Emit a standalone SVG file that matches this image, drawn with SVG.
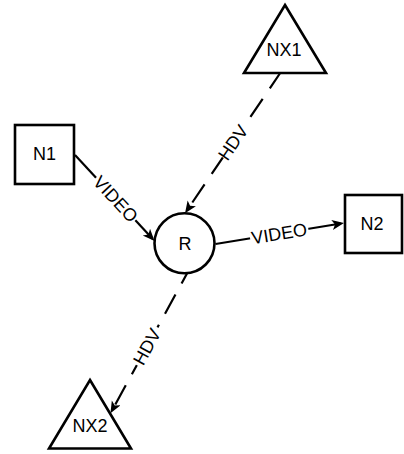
<svg xmlns="http://www.w3.org/2000/svg" width="404" height="454" viewBox="0 0 404 454">
  <style>
    .shape { fill: #ffffff; stroke: #000000; stroke-width: 2.6; }
    .edge { fill: none; stroke: #000000; stroke-width: 2.2; }
    .dashed { stroke-dasharray: 21.8 12.7; }
    .lbl-bg { fill: #ffffff; stroke: none; }
    text { font-family: "Liberation Sans", Arial, sans-serif; font-size: 18px; fill: #000000; text-anchor: middle; }
  </style>
  <defs>
    <marker id="arrow" markerUnits="userSpaceOnUse" markerWidth="13" markerHeight="11" viewBox="0 0 13 11" refX="9" refY="5" orient="auto">
      <path d="M0,0 L12,5 L0,10 L3,5 Z" fill="#000000"/>
    </marker>
  </defs>

  <!-- connectors -->
  <g id="connectors">
    <!-- N1 to R -->
    <g id="e-n1-r">
      <path class="edge" d="M75,155 L152.5,238.8" marker-end="url(#arrow)"/>
      <g transform="translate(115.7,199) rotate(47.25)">
        <rect class="lbl-bg" x="-29" y="-8" width="58" height="16"/>
        <text x="0" y="6.3">VIDEO</text>
      </g>
    </g>
    <!-- R to N2 -->
    <g id="e-r-n2">
      <path class="edge" d="M215.5,244 L341,223.5" marker-end="url(#arrow)"/>
      <g transform="translate(279.2,233.6) rotate(-9.28)">
        <rect class="lbl-bg" x="-29.5" y="-8" width="59" height="16"/>
        <text x="0" y="6.3">VIDEO</text>
      </g>
    </g>
    <!-- NX1 to R -->
    <g id="e-nx1-r">
      <path class="edge dashed" stroke-dashoffset="3.3" d="M280.2,73 L186.7,210.8" marker-end="url(#arrow)"/>
      <g transform="translate(234.14,140.87) rotate(-55.8)">
        <rect class="lbl-bg" x="-20" y="-8" width="40" height="16"/>
        <text x="-2" y="6.3">HDV</text>
      </g>
    </g>
    <!-- R to NX2 -->
    <g id="e-r-nx2">
      <path class="edge dashed" stroke-dashoffset="10.5" d="M187,273.5 L111.9,410.7" marker-end="url(#arrow)"/>
      <g transform="translate(146.9,346.7) rotate(-61.3)">
        <rect class="lbl-bg" x="-21" y="-8" width="43" height="16"/>
        <text x="0" y="6.3">HDV</text>
      </g>
    </g>
  </g>

  <!-- nodes -->
  <g id="NX1">
    <path class="shape" d="M285,5 L326,73 L244,73 Z"/>
    <text x="284" y="56.3">NX1</text>
  </g>
  <g id="N1">
    <rect class="shape" x="15" y="125" width="59" height="59"/>
    <text x="44.5" y="160.3">N1</text>
  </g>
  <g id="R">
    <circle class="shape" cx="184.5" cy="243.3" r="30"/>
    <text x="185" y="249.8">R</text>
  </g>
  <g id="N2">
    <rect class="shape" x="345" y="195" width="57" height="58"/>
    <text x="372" y="230.3">N2</text>
  </g>
  <g id="NX2">
    <path class="shape" d="M90,380 L131,448.5 L49,448.5 Z"/>
    <text x="90" y="431.5">NX2</text>
  </g>
</svg>
